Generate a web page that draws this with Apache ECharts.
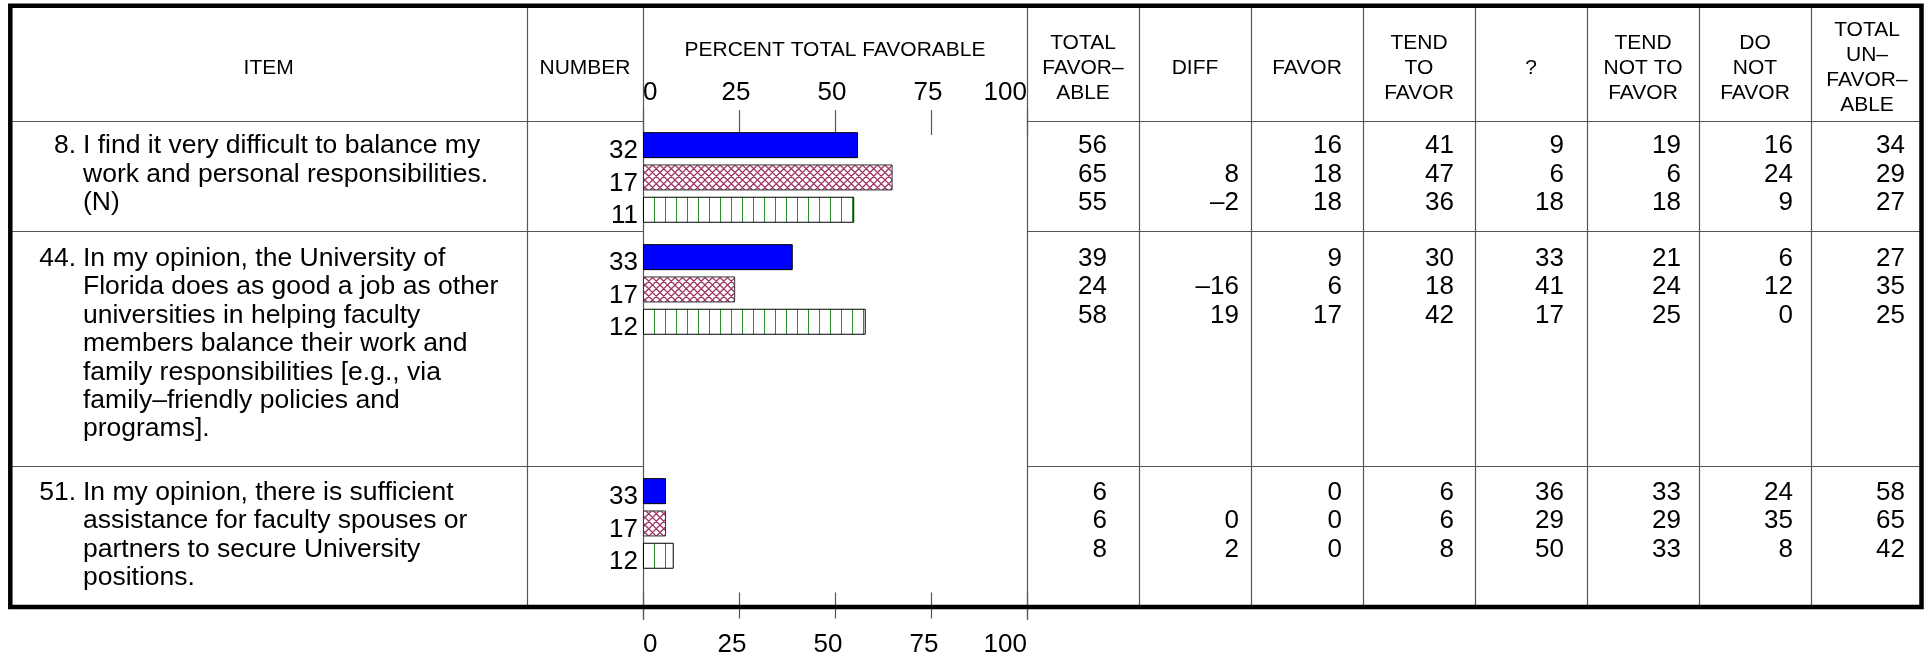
<!DOCTYPE html>
<html><head><meta charset="utf-8">
<script src="https://cdn.jsdelivr.net/npm/echarts/dist/echarts.min.js"></script>
<style>html,body{margin:0;padding:0;background:#fff}#c{width:1931px;height:656px}</style>
</head><body><div id="c"></div>
<script>
// ---------- DATA ----------
const itemNumbers = ['8.', '44.', '51.'];
const itemLines = [
  ['I find it very difficult to balance my', 'work and personal responsibilities.', '(N)'],
  ['In my opinion, the University of', 'Florida does as good a job as other', 'universities in helping faculty',
   'members balance their work and', 'family responsibilities [e.g., via', 'family\u2013friendly policies and', 'programs].'],
  ['In my opinion, there is sufficient', 'assistance for faculty spouses or', 'partners to secure University', 'positions.']
];
const groupN = [[32, 17, 11], [33, 17, 12], [33, 17, 12]];
const totalFavorable   = [[56, 65, 55], [39, 24, 58], [6, 6, 8]];
const diff             = [[null, 8, -2], [null, -16, 19], [null, 0, 2]];
const favor            = [[16, 18, 18], [9, 6, 17], [0, 0, 0]];
const tendToFavor      = [[41, 47, 36], [30, 18, 42], [6, 6, 8]];
const unsure           = [[9, 6, 18], [33, 41, 17], [36, 29, 50]];
const tendNotToFavor   = [[19, 6, 18], [21, 24, 25], [33, 29, 33]];
const doNotFavor       = [[16, 24, 9], [6, 12, 0], [24, 35, 8]];
const totalUnfavorable = [[34, 29, 27], [27, 35, 25], [58, 65, 42]];
const columnHeaders = ['TOTAL\nFAVOR\u2013\nABLE', 'DIFF', 'FAVOR', 'TEND\nTO\nFAVOR', '?',
  'TEND\nNOT TO\nFAVOR', 'DO\nNOT\nFAVOR', 'TOTAL\nUN\u2013\nFAVOR\u2013\nABLE'];
const xTickValues = [0, 25, 50, 75, 100];

// ---------- LAYOUT ----------
const FONT = '"Liberation Sans", Arial, Helvetica, sans-serif';
const L = {
  left: 10.3, right: 1921.5, top: 5.8, bottom: 607,
  itemColR: 527, chartL: 643, chartR: 1027, colW: 112,
  headerY: 121, rowSep: [231, 466],
  rowFirst: [146, 258.6, 492.6], lineH: 28.4,
  barTop: [129, 241, 475], slot: 32.3,
  axisTop: 135, axisBottom: 594,
  colPad: [32, 12, 21, 21, 23, 18, 18, 18]
};

// ---------- PATTERNS ----------
function crossPattern() {
  const s = 15, c = document.createElement('canvas');
  c.width = s; c.height = s;
  const g = c.getContext('2d');
  g.fillStyle = '#fff'; g.fillRect(0, 0, s, s);
  g.strokeStyle = '#9e3566'; g.lineWidth = 1.25;
  g.beginPath();
  for (let o = -2 * s; o <= 3 * s; o += 7.5) {
    g.moveTo(-s, -s + o); g.lineTo(2 * s, 2 * s + o);
    g.moveTo(-s, o); g.lineTo(2 * s, o - 3 * s);
  }
  g.stroke();
  return c;
}
function vlinePattern() {
  const c = document.createElement('canvas');
  c.width = 11; c.height = 4;
  const g = c.getContext('2d');
  g.fillStyle = '#fff'; g.fillRect(0, 0, 11, 4);
  g.fillStyle = '#2a8f2a'; g.fillRect(5, 0, 1, 4);
  return c;
}
const groupStyles = [
  { color: '#0000ff', borderColor: '#000', borderWidth: 1 },
  { color: { image: crossPattern(), repeat: 'repeat' }, borderColor: '#333', borderWidth: 1 },
  { color: { image: vlinePattern(), repeat: 'repeat' }, borderColor: '#000', borderWidth: 1 }
];

// ---------- GRAPHIC TABLE ----------
const g = [];
function line(x1, y1, x2, y2, w, c) {
  g.push({ type: 'line', silent: true, shape: { x1, y1, x2, y2 }, style: { stroke: c || '#555', lineWidth: w || 1.2 } });
}
function text(t, x, y, size, align, lh) {
  g.push({ type: 'text', silent: true, x, y, style: {
    text: t, font: size + 'px ' + FONT, fill: '#000',
    align: align, textAlign: align, verticalAlign: 'middle', textVerticalAlign: 'middle',
    lineHeight: lh || size
  } });
}
// outer border
g.push({ type: 'rect', silent: true, z: 10, shape: { x: L.left, y: L.top, width: L.right - L.left, height: L.bottom - L.top },
  style: { fill: null, stroke: '#000', lineWidth: 4.5 } });
// vertical lines
line(L.itemColR + 0.5, L.top, L.itemColR + 0.5, L.bottom);
line(L.chartL + 0.5, L.top, L.chartL + 0.5, 620);
line(L.chartR + 0.5, L.top, L.chartR + 0.5, 620);
for (let c = 1; c < columnHeaders.length; c++) {
  const x = L.chartR + c * L.colW + 0.5;
  line(x, L.top, x, L.bottom);
}
// horizontal lines (not across the chart column)
[L.headerY].concat(L.rowSep).forEach(y => {
  line(L.left, y + 0.5, L.chartL, y + 0.5);
  line(L.chartR, y + 0.5, L.right, y + 0.5);
});
// headers
const HY = 68;
text('ITEM', (L.left + L.itemColR) / 2, HY, 21, 'center');
text('NUMBER', (L.itemColR + L.chartL) / 2, HY, 21, 'center');
text('PERCENT TOTAL FAVORABLE', (L.chartL + L.chartR) / 2, 50, 21, 'center');
columnHeaders.forEach((h, c) => {
  text(h, L.chartR + c * L.colW + L.colW / 2, HY, 21, 'center', 25);
});
// item texts
itemLines.forEach((lines, r) => {
  text(itemNumbers[r], 76, L.rowFirst[r], 26.5, 'right');
  lines.forEach((t, k) => text(t, 83, L.rowFirst[r] + k * L.lineH, 26.5, 'left'));
});
// table values
const tableCols = [totalFavorable, diff, favor, tendToFavor, unsure, tendNotToFavor, doNotFavor, totalUnfavorable];
const fmt = v => v == null ? '' : (v < 0 ? '\u2013' + (-v) : String(v));
tableCols.forEach((col, c) => {
  const xr = L.chartR + (c + 1) * L.colW - L.colPad[c];
  col.forEach((vals, r) => vals.forEach((v, k) => {
    if (v != null) text(fmt(v), xr, L.rowFirst[r] + k * L.lineH, 26, 'right');
  }));
});

// ---------- CHART ----------
const tickMin = xTickValues[0], tickMax = xTickValues[xTickValues.length - 1];
const tickInt = xTickValues[1] - xTickValues[0];
const grids = [], xAxes = [], yAxes = [], series = [];
for (let r = 0; r < 3; r++) {
  grids.push({ left: L.chartL, width: L.chartR - L.chartL, top: L.barTop[r], height: L.slot * 3 });
  xAxes.push({ type: 'value', gridIndex: r, min: tickMin, max: tickMax, show: false });
  yAxes.push({ type: 'category', gridIndex: r, inverse: true, data: groupN[r].map(String),
    axisLine: { show: false }, axisTick: { show: false }, splitLine: { show: false },
    axisLabel: { interval: 0, margin: 5, fontSize: 26, fontFamily: FONT, color: '#000',
      verticalAlign: 'top', lineHeight: 12 } });
  series.push({ type: 'bar', xAxisIndex: r, yAxisIndex: r, barWidth: 26, silent: true,
    data: totalFavorable[r].map((v, j) => ({ value: v, itemStyle: groupStyles[j] })) });
}
// axis-only grids for the top and bottom scales
function scaleAxis(pos, gi, tickLen, margin, shift) {
  grids.push(pos === 'top'
    ? { left: L.chartL, width: L.chartR - L.chartL, top: L.axisTop, height: 2 }
    : { left: L.chartL, width: L.chartR - L.chartL, top: L.axisBottom - 2, height: 2 });
  const rich = { s: { fontSize: 26, fontFamily: FONT, color: '#000', padding: [0, shift, 0, 0] } };
  xAxes.push({ type: 'value', gridIndex: gi, position: pos, min: tickMin, max: tickMax, interval: tickInt,
    axisLine: { show: false, onZero: false }, splitLine: { show: false },
    axisTick: { show: true, length: tickLen, lineStyle: { color: '#555', width: 1.2 } },
    axisLabel: { fontSize: 26, fontFamily: FONT, color: '#000', margin: margin,
      alignMinLabel: 'left', alignMaxLabel: 'right',
      formatter: v => (v === tickMin || v === tickMax) ? String(v) : '{s|' + v + '}', rich,
      showMinLabel: true, showMaxLabel: true } });
  yAxes.push({ type: 'value', gridIndex: gi, show: false, min: 0, max: 1 });
}
scaleAxis('top', 3, 25, 29, 6);
scaleAxis('bottom', 4, 26, 39, 14);

const chart = echarts.init(document.getElementById('c'), null, { renderer: 'canvas', width: 1931, height: 656 });
chart.setOption({
  animation: false,
  backgroundColor: '#fff',
  grid: grids, xAxis: xAxes, yAxis: yAxes, series,
  graphic: { elements: g }
});
</script></body></html>
